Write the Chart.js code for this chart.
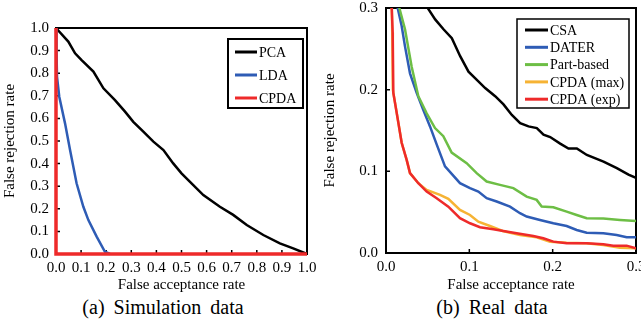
<!DOCTYPE html>
<html><head><meta charset="utf-8">
<script src="https://cdn.jsdelivr.net/npm/chart.js@4.4.1/dist/chart.umd.min.js"></script>
<style>
html,body{margin:0;padding:0;background:#fff;width:641px;height:322px;overflow:hidden;position:relative;font-family:"Liberation Serif","Times New Roman",Times,"DejaVu Serif",serif;}
canvas{position:absolute;top:0;}
#cL{left:0;} #cR{left:320px;}
.cap{position:absolute;top:295px;font-size:20px;line-height:24px;word-spacing:4px;color:#000;white-space:nowrap;transform:translateX(-50%);}
</style></head><body>
<canvas id="cL" width="320" height="295"></canvas>
<canvas id="cR" width="321" height="295"></canvas>
<div class="cap" style="left:163px">(a) Simulation data</div>
<div class="cap" style="left:492px">(b) Real data</div>
<script>
// ---- Simulation data (left) ----
const simLabels = ["PCA","LDA","CPDA"];
const simTicksX = [0,0.1,0.2,0.3,0.4,0.5,0.6,0.7,0.8,0.9,1.0];
const simTicksY = [0,0.1,0.2,0.3,0.4,0.5,0.6,0.7,0.8,0.9,1.0];
const pca = [[0,1.0],[0.049,0.94],[0.076,0.888],[0.102,0.858],[0.149,0.807],[0.189,0.733],[0.235,0.681],[0.275,0.63],[0.308,0.585],[0.348,0.541],[0.388,0.497],[0.428,0.46],[0.467,0.401],[0.5,0.357],[0.547,0.305],[0.587,0.261],[0.653,0.209],[0.706,0.173],[0.76,0.128],[0.826,0.084],[0.892,0.047],[0.945,0.025],[1.0,0.0]];
const lda = [[0,1.0],[0.002,0.9],[0.004,0.785],[0.013,0.696],[0.036,0.578],[0.056,0.46],[0.082,0.313],[0.109,0.209],[0.129,0.15],[0.162,0.077],[0.195,0.01],[0.215,0.0]];
const cpdaSim = [[0,1.0],[0,0],[1.0,0]];

// ---- Real data (right) ----
const realLabels = ["CSA","DATER","Part-based","CPDA (max)","CPDA (exp)"];
const realTicks = [0,0.1,0.2,0.3];
const csa = [[0.046,0.31],[0.05,0.3],[0.059,0.286],[0.069,0.274],[0.079,0.263],[0.089,0.241],[0.099,0.222],[0.109,0.212],[0.119,0.202],[0.131,0.192],[0.141,0.182],[0.151,0.169],[0.161,0.159],[0.171,0.155],[0.181,0.153],[0.189,0.145],[0.197,0.142],[0.209,0.134],[0.219,0.128],[0.229,0.128],[0.241,0.12],[0.261,0.112],[0.277,0.104],[0.291,0.096],[0.3,0.092]];
const dater = [[0.013,0.31],[0.0136,0.302],[0.0188,0.278],[0.0228,0.253],[0.0288,0.22],[0.0368,0.196],[0.0448,0.175],[0.0528,0.155],[0.0608,0.133],[0.0708,0.106],[0.0888,0.0855],[0.1008,0.0794],[0.1108,0.0752],[0.1208,0.0671],[0.1328,0.063],[0.1488,0.0568],[0.1608,0.0487],[0.1688,0.0446],[0.1848,0.0405],[0.2008,0.0364],[0.2168,0.0331],[0.2288,0.0282],[0.2408,0.0249],[0.2608,0.0241],[0.2768,0.0221],[0.2888,0.0193],[0.3,0.0193]];
const partBased = [[0.015,0.31],[0.016,0.3],[0.0228,0.274],[0.0308,0.228],[0.0388,0.192],[0.0488,0.171],[0.0588,0.153],[0.0688,0.143],[0.0788,0.123],[0.0968,0.11],[0.1088,0.0978],[0.1208,0.0875],[0.1368,0.0834],[0.1528,0.0794],[0.1688,0.0691],[0.1808,0.065],[0.1868,0.0568],[0.2008,0.056],[0.2168,0.0507],[0.2288,0.0466],[0.2408,0.0426],[0.2608,0.0421],[0.2808,0.0405],[0.3,0.0393]];
const cpdaMax = [[0.0068,0.31],[0.0075,0.27],[0.0082,0.2],[0.0136,0.167],[0.0188,0.135],[0.0248,0.114],[0.0288,0.0978],[0.0388,0.0855],[0.0488,0.0773],[0.0648,0.0712],[0.0748,0.0663],[0.0888,0.0528],[0.1008,0.0466],[0.1108,0.0384],[0.1248,0.0331],[0.14,0.027],[0.1608,0.0221],[0.1808,0.0193],[0.1968,0.0139],[0.2168,0.0127],[0.24,0.012],[0.2608,0.0098],[0.2808,0.0065],[0.3,0.0057]];
const cpdaExp = [[0.0066,0.31],[0.0068,0.302],[0.008,0.27],[0.0088,0.196],[0.0136,0.167],[0.0188,0.135],[0.0248,0.114],[0.0288,0.0978],[0.0388,0.0855],[0.0488,0.0752],[0.0608,0.0671],[0.0748,0.0568],[0.0888,0.0426],[0.1008,0.0364],[0.1128,0.0315],[0.1288,0.0291],[0.1408,0.027],[0.1568,0.0241],[0.1768,0.0209],[0.1888,0.018],[0.2008,0.0139],[0.2168,0.0119],[0.2408,0.0119],[0.2608,0.0106],[0.2728,0.009],[0.2888,0.009],[0.3,0.0057]];

const FONT = '"Liberation Serif","Times New Roman",Times,"DejaVu Serif",serif';
const pts = a => a.map(p => ({x:p[0], y:p[1]}));

function boxAndTicks(ctx, chart, tickLen){
  const a = chart.chartArea;
  ctx.save();
  ctx.strokeStyle = '#000';
  ctx.lineWidth = 2;
  ctx.strokeRect(a.left, a.top, a.right - a.left, a.bottom - a.top);
  ctx.lineWidth = 1.5;
  const xs = chart.scales.x, ys = chart.scales.y;
  ctx.beginPath();
  xs.ticks.forEach(t => { const px = xs.getPixelForValue(t.value); ctx.moveTo(px, a.bottom); ctx.lineTo(px, a.bottom - tickLen); });
  ys.ticks.forEach(t => { const py = ys.getPixelForValue(t.value); ctx.moveTo(a.left, py); ctx.lineTo(a.left + tickLen, py); });
  ctx.stroke();
  ctx.restore();
}

function legendPlugin(cfg){
  return {
    id:'boxLegend',
    afterDatasetsDraw(chart){
      const ctx = chart.ctx;
      ctx.save();
      ctx.strokeStyle = '#000';
      ctx.lineWidth = cfg.boxLW;
      ctx.fillStyle = '#fff';
      ctx.fillRect(cfg.x, cfg.y, cfg.w, cfg.h);
      ctx.strokeRect(cfg.x, cfg.y, cfg.w, cfg.h);
      ctx.font = cfg.fontSize + 'px ' + FONT;
      ctx.textBaseline = 'middle';
      ctx.textAlign = 'left';
      chart.data.datasets.forEach((ds, i) => {
        const y = cfg.y0 + i * cfg.dy;
        ctx.strokeStyle = ds.borderColor;
        ctx.lineWidth = 3;
        ctx.beginPath(); ctx.moveTo(cfg.lx0, y); ctx.lineTo(cfg.lx1, y); ctx.stroke();
        ctx.fillStyle = '#000';
        ctx.fillText(ds.label, cfg.tx, y + 1);
      });
      ctx.restore();
    }
  };
}

function makeScale(ticksArr, title, isX, pad, fixSize){
  return {
    type:'linear',
    min: ticksArr[0], max: ticksArr[ticksArr.length-1],
    afterBuildTicks: s => { s.ticks = ticksArr.map(v => ({value:v})); },
    afterFit: s => {
      if (isX) { s.height = fixSize; } else { s.width = fixSize; }
      s.paddingLeft = 0; s.paddingRight = 0; s.paddingTop = 0; s.paddingBottom = 0;
    },
    grid:{display:false, drawTicks:false},
    border:{display:false},
    ticks:{autoSkip:false, maxRotation:0, minRotation:0, padding:pad, color:'#000',
      font:{family:FONT, size:15}, callback: v => Number(v).toFixed(1)},
    title:{display:true, text:title, color:'#000', font:{family:FONT, size:15}, padding:{top:1,bottom:1}}
  };
}

const simCfg = {
  type:'line',
  data:{datasets:[
    {label:simLabels[0], data:pts(pca), borderColor:'#000000', order:2},
    {label:simLabels[1], data:pts(lda), borderColor:'#2E5CB5', order:1},
    {label:simLabels[2], data:pts(cpdaSim), borderColor:'#EE2A2A', borderWidth:3.5, order:0}
  ]},
  options:{
    responsive:false, animation:false, devicePixelRatio:1,
    layout:{padding:{top:28, right:13, left:0, bottom:0}},
    elements:{line:{borderWidth:2.5, tension:0, fill:false}, point:{radius:0}},
    datasets:{line:{clip:false}},
    plugins:{legend:{display:false}, tooltip:{enabled:false}},
    scales:{
      x: makeScale(simTicksX, 'False acceptance rate', true, 5, 41),
      y: makeScale(simTicksY, 'False rejection rate', false, 7, 56)
    }
  },
  plugins:[{id:'frame', beforeDatasetsDraw(c){ boxAndTicks(c.ctx, c, 4); }},
    legendPlugin({x:228,y:39,w:75,h:69,boxLW:2,fontSize:14,y0:52,dy:23,lx0:235,lx1:257,tx:259})]
};

const realColors = ['#000000','#2E5CB5','#6DBE45','#F6B334','#EE2A2A'];
const realData = [csa, dater, partBased, cpdaMax, cpdaExp];
const realCfg = {
  type:'line',
  data:{datasets: realData.map((d,i) => ({label:realLabels[i], data:pts(d), borderColor:realColors[i], order:4-i}))},
  options:{
    responsive:false, animation:false, devicePixelRatio:1,
    layout:{padding:{top:8, right:5, left:0, bottom:0}},
    elements:{line:{borderWidth:2.5, tension:0, fill:false}, point:{radius:0}},
    plugins:{legend:{display:false}, tooltip:{enabled:false}},
    scales:{
      x: makeScale(realTicks, 'False acceptance rate', true, 5, 42),
      y: makeScale(realTicks, 'False rejection rate', false, 8, 66)
    }
  },
  plugins:[{id:'frame', beforeDatasetsDraw(c){ boxAndTicks(c.ctx, c, 4); }},
    legendPlugin({x:197,y:19,w:112,h:89,boxLW:1.5,fontSize:14,y0:30,dy:17.3,lx0:205,lx1:228,tx:230})]
};

new Chart(document.getElementById('cL'), simCfg);
new Chart(document.getElementById('cR'), realCfg);
</script>
</body></html>
